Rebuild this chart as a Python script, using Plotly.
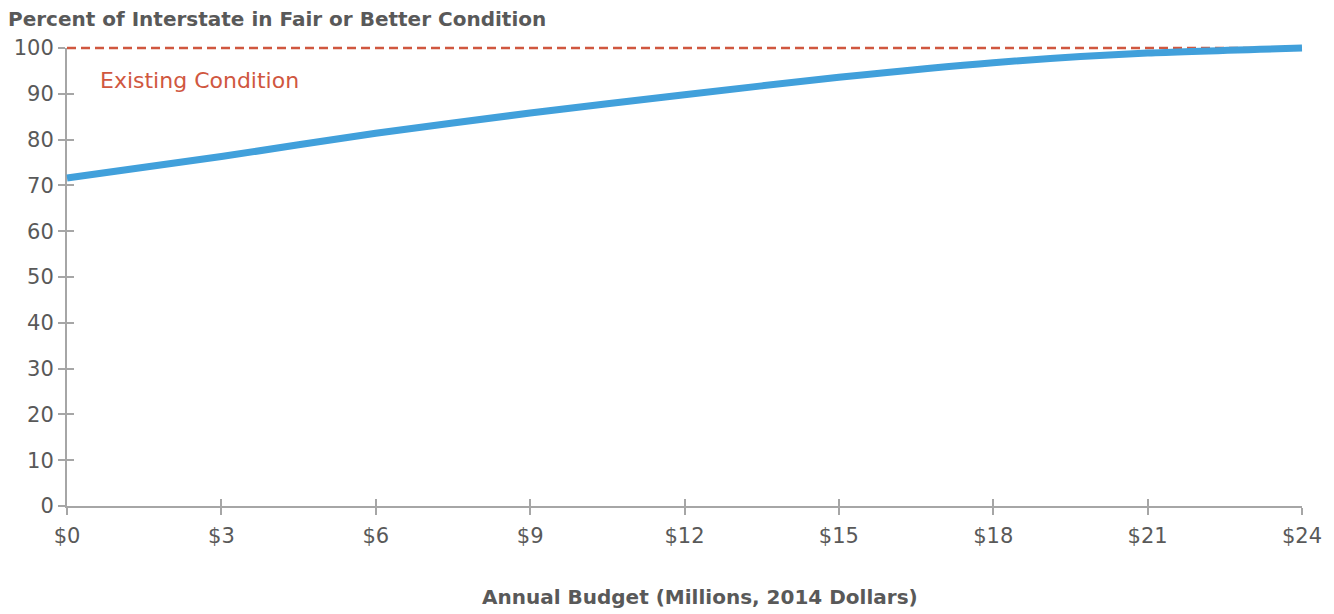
import plotly.graph_objects as go

# ---- data ----
budget = [0, 3, 6, 9, 12, 15, 18, 21, 24]
pct_fair_or_better = [71.6, 76.3, 81.4, 85.8, 89.8, 93.6, 96.8, 98.9, 100.0]
existing_condition = 100
x_ticks = [0, 3, 6, 9, 12, 15, 18, 21, 24]
x_tick_labels = ["$0", "$3", "$6", "$9", "$12", "$15", "$18", "$21", "$24"]
y_ticks = [0, 10, 20, 30, 40, 50, 60, 70, 80, 90, 100]

W, H = 1334, 614
ML, MR, MT, MB = 57, 22, 38, 98
# pixel positions of the displayed axis box
PX0, PX1 = 67, 1302
PY_TOP, PY_BOT = 48, 506

plot_w = W - ML - MR
plot_h = H - MT - MB
xd = [(PX0 - ML) / plot_w, (PX1 - ML) / plot_w]
yd = [((H - MB) - PY_BOT) / plot_h, ((H - MB) - PY_TOP) / plot_h]
xr = [0, 24]
yr = [0, 100]
# data axes span the full plot area with the same scale (avoid clipping of thick line)
sx = (xr[1] - xr[0]) / (PX1 - PX0)
sy = (yr[1] - yr[0]) / (PY_BOT - PY_TOP)
xr2 = [xr[0] - (PX0 - ML) * sx, xr[1] + ((W - MR) - PX1) * sx]
yr2 = [yr[0] - ((H - MB) - PY_BOT) * sy, yr[1] + (PY_TOP - MT) * sy]


def px_to_paper_x(px):
    return (px - ML) / plot_w


def px_to_paper_y(py):
    return ((H - MB) - py) / plot_h


grey = "#595959"
axis_grey = "#a6a6a6"
red = "#d0573f"
blue = "#41a0db"
font = "DejaVu Sans"

fig = go.Figure()
fig.add_trace(go.Scatter(x=[xr[0], xr[1]], y=[existing_condition, existing_condition],
                         mode="lines", line=dict(color=red, width=2.5, dash="9px,5px"),
                         xaxis="x2", yaxis="y2", hoverinfo="skip", showlegend=False))
fig.add_trace(go.Scatter(x=budget, y=pct_fair_or_better, mode="lines",
                         line=dict(color=blue, width=7, shape="spline", smoothing=0.6),
                         xaxis="x2", yaxis="y2", showlegend=False))
# invisible traces so the display axes render
fig.add_trace(go.Scatter(x=[xr[0]], y=[yr[0]], xaxis="x", yaxis="y", mode="markers",
                         marker=dict(opacity=0), hoverinfo="skip", showlegend=False))
fig.add_trace(go.Scatter(x=[xr[0]], y=[yr[0]], xaxis="x3", yaxis="y3", mode="markers",
                         marker=dict(opacity=0), hoverinfo="skip", showlegend=False))

common_tick = dict(ticks="outside", ticklen=7, tickwidth=2, tickcolor=axis_grey,
                   showgrid=False, zeroline=False, automargin=False)

fig.update_layout(
    width=W, height=H,
    margin=dict(l=ML, r=MR, t=MT, b=MB, autoexpand=False),
    paper_bgcolor="white", plot_bgcolor="rgba(0,0,0,0)",
    font=dict(family=font, color=grey, size=19),
    xaxis=dict(domain=xd, range=xr, tickvals=x_ticks, ticktext=x_tick_labels,
               showline=True, linecolor=axis_grey, linewidth=2, anchor="y",
               ticklabelstandoff=3,
               tickfont=dict(size=21, color=grey),
               **common_tick),
    yaxis=dict(domain=yd, range=yr, tickvals=y_ticks,
               showline=True, linecolor=axis_grey, linewidth=2, anchor="x",
               ticklabelstandoff=0,
               tickfont=dict(size=21, color=grey),
               **common_tick),
    xaxis3=dict(overlaying="x", range=xr, tickvals=x_ticks, showticklabels=False,
                ticks="inside", ticklen=7, tickwidth=2, tickcolor=axis_grey,
                showgrid=False, zeroline=False, showline=False, anchor="y3",
                automargin=False),
    yaxis3=dict(overlaying="y", range=yr, tickvals=y_ticks, showticklabels=False,
                ticks="inside", ticklen=7, tickwidth=2, tickcolor=axis_grey,
                showgrid=False, zeroline=False, showline=False, anchor="x3",
                automargin=False),
    xaxis2=dict(domain=[0, 1], range=xr2, visible=False, anchor="y2", fixedrange=True),
    yaxis2=dict(domain=[0, 1], range=yr2, visible=False, anchor="x2", fixedrange=True),
    annotations=[
        dict(text="<b>Percent of Interstate in Fair or Better Condition</b>",
             xref="paper", yref="paper", x=px_to_paper_x(6), y=px_to_paper_y(19),
             xanchor="left", yanchor="middle", showarrow=False,
             font=dict(size=20, color=grey, family=font)),
        dict(text="<b>Annual Budget (Millions, 2014 Dollars)</b>",
             xref="paper", yref="paper", x=px_to_paper_x(700), y=px_to_paper_y(597),
             xanchor="center", yanchor="middle", showarrow=False,
             font=dict(size=20, color=grey, family=font)),
        dict(text="Existing Condition", xref="x2", yref="y2",
             x=0.6, y=existing_condition - 7.0,
             xanchor="left", yanchor="middle", showarrow=False,
             font=dict(size=22, color=red, family=font)),
    ],
)

fig.write_html("out.html", config={"displayModeBar": False},
               post_script="document.body.style.margin='0';document.body.style.overflow='hidden';")
